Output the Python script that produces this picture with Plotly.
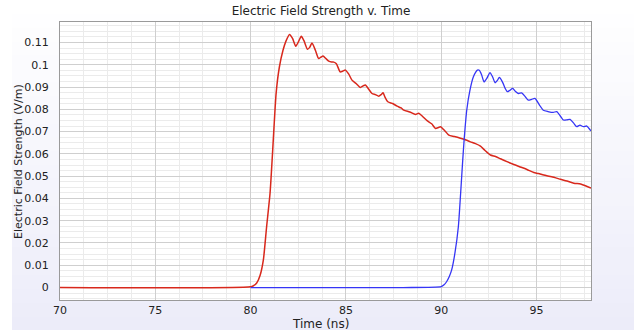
import plotly.graph_objects as go

# ---- data ----
red_time = [70, 80.0, 80.15, 80.32, 80.5, 80.67, 80.84, 81.02, 81.16, 81.34,
            81.51, 81.7, 81.85, 82.04, 82.2, 82.37, 82.52, 82.66, 82.8, 82.98,
            83.1, 83.22, 83.4, 83.57, 83.7, 83.8, 83.95, 84.1, 84.25, 84.36,
            84.5, 84.7, 84.85, 84.97, 85.15, 85.32, 85.55, 85.76, 85.9, 86.02,
            86.2, 86.37, 86.55, 86.72, 86.85, 86.95, 87.05, 87.2, 87.45, 87.69,
            87.9, 88.04, 88.35, 88.65, 88.82, 89.0, 89.26, 89.5, 89.7, 89.85,
            89.96, 90.2, 90.4, 90.7, 91.01, 91.3, 91.53, 91.8, 92.06, 92.3,
            92.58, 92.85, 93.11, 93.45, 93.81, 94.2, 94.5, 94.86, 95.1, 95.38,
            95.8, 96.26, 96.6, 96.96, 97.31, 97.6, 97.86]
red_value = [0, 0.0003, 0.0008, 0.002, 0.0055, 0.0124, 0.0273, 0.0423, 0.0617, 0.0873,
             0.099, 0.1065, 0.1105, 0.1136, 0.1118, 0.1083, 0.1105, 0.1128, 0.1108, 0.107,
             0.1078, 0.1098, 0.1065, 0.1028, 0.1035, 0.1039, 0.1028, 0.1016, 0.1012, 0.1012,
             0.1005, 0.0968, 0.0972, 0.0976, 0.0958, 0.0931, 0.0915, 0.0898, 0.0905, 0.0909,
             0.089, 0.0871, 0.0866, 0.0859, 0.0866, 0.0874, 0.0855, 0.0834, 0.0826, 0.0814,
             0.0806, 0.0796, 0.0788, 0.0777, 0.0782, 0.077, 0.0749, 0.0735, 0.0714, 0.0718,
             0.0722, 0.0703, 0.0684, 0.0678, 0.067, 0.0662, 0.0654, 0.0646, 0.0635, 0.0615,
             0.0595, 0.0588, 0.0578, 0.0565, 0.0552, 0.054, 0.053, 0.0516, 0.0512, 0.0505,
             0.0497, 0.0486, 0.0478, 0.0468, 0.0465, 0.0456, 0.0446]

blue_time = [80.0, 88.0, 90.0, 90.15, 90.29, 90.42, 90.55, 90.72, 90.9, 91.02,
             91.13, 91.21, 91.34, 91.51, 91.69, 91.9, 92.0, 92.12, 92.25, 92.4,
             92.56, 92.7, 92.83, 92.95, 93.05, 93.23, 93.35, 93.47, 93.6, 93.75,
             93.9, 94.05, 94.22, 94.4, 94.57, 94.75, 94.92, 95.15, 95.36, 95.6,
             95.88, 96.06, 96.25, 96.41, 96.6, 96.76, 96.95, 97.11, 97.28, 97.46,
             97.64, 97.82, 97.86]
blue_value = [0, 0, 0.0004, 0.0012, 0.0027, 0.0048, 0.0079, 0.0154, 0.0273, 0.0423,
              0.0572, 0.067, 0.0796, 0.0886, 0.0946, 0.0976, 0.0975, 0.0955, 0.0923, 0.094,
              0.0965, 0.0945, 0.0919, 0.093, 0.0943, 0.092, 0.0895, 0.0879, 0.0885, 0.0894,
              0.088, 0.0871, 0.0874, 0.0858, 0.0841, 0.0845, 0.0849, 0.082, 0.0796, 0.079,
              0.0786, 0.079, 0.077, 0.0752, 0.0753, 0.0755, 0.0738, 0.0722, 0.0729, 0.0722,
              0.0725, 0.0707, 0.0703]

x_ticks = [70, 75, 80, 85, 90, 95]
y_ticks = [0, 0.01, 0.02, 0.03, 0.04, 0.05, 0.06, 0.07, 0.08, 0.09, 0.1, 0.11]
y_tick_text = ["0", "0.01", "0.02", "0.03", "0.04", "0.05", "0.06", "0.07", "0.08", "0.09", "0.1", "0.11"]

FONT = "DejaVu Sans"
W, H = 634, 330
ML, MR, MT, MB = 60, 43, 22, 30

fig = go.Figure()
fig.add_trace(go.Scatter(x=red_time, y=red_value, mode="lines",
                         line=dict(color="#d8281c", width=1.5, shape="spline", smoothing=0.6),
                         showlegend=False, hoverinfo="skip"))
fig.add_trace(go.Scatter(x=blue_time, y=blue_value, mode="lines",
                         line=dict(color="#3535f5", width=1.3, shape="spline", smoothing=0.6),
                         showlegend=False, hoverinfo="skip"))

# background: soft vertical gradient from white (top) to lavender (bottom)
pw, ph = W - ML - MR, H - MT - MB
def px_to_paper_x(px):
    return (px - ML) / pw
def px_to_paper_y(py):
    return (H - MB - py) / ph

shapes = []
n_bands = 24
top_c, bot_c = (255, 255, 255), (236, 236, 249)
for i in range(n_bands):
    f = (i + 0.5) / n_bands
    c = tuple(round(top_c[k] + (bot_c[k] - top_c[k]) * f) for k in range(3))
    y0 = H * i / n_bands
    y1 = H * (i + 1) / n_bands + 1
    shapes.append(dict(type="rect", xref="paper", yref="paper", layer="below",
                       x0=px_to_paper_x(12), x1=px_to_paper_x(W + 2),
                       y0=px_to_paper_y(y1), y1=px_to_paper_y(y0),
                       fillcolor="rgb(%d,%d,%d)" % c, line=dict(width=0)))
# keep the plotting area itself plain white
shapes.append(dict(type="rect", xref="paper", yref="paper", layer="below",
                   x0=0, x1=1, y0=0, y1=1, fillcolor="#ffffff", line=dict(width=0)))

fig.update_layout(
    width=W, height=H,
    margin=dict(l=ML, r=MR, t=MT, b=MB, autoexpand=False),
    paper_bgcolor="#ffffff",
    plot_bgcolor="#ffffff",
    shapes=shapes,
    font=dict(family=FONT, size=11, color="#222222"),
    title=dict(text="Electric Field Strength v. Time", x=321 / W, xanchor="center",
               y=1 - 11 / H, yanchor="middle", yref="container", automargin=False,
               font=dict(family=FONT, size=12, color="#222222")),
    xaxis=dict(range=[70, 97.86], tickvals=x_ticks, ticktext=[str(v) for v in x_ticks],
               showgrid=True, gridcolor="#cfcfcf", gridwidth=1,
               minor=dict(tickvals=[70 + 1.25 * i for i in range(23)], showgrid=True,
                          gridcolor="#ebebeb", gridwidth=1),
               showline=True, linecolor="#9a9a9a", linewidth=1, mirror=True,
               zeroline=False, ticks="", ticklabelstandoff=0, automargin=False),
    yaxis=dict(range=[-0.0056, 0.1192], tickvals=y_ticks, ticktext=y_tick_text,
               showgrid=True, gridcolor="#cfcfcf", gridwidth=1,
               minor=dict(dtick=0.0025, tick0=0, showgrid=True, gridcolor="#ebebeb", gridwidth=1),
               showline=True, linecolor="#9a9a9a", linewidth=1, mirror=True,
               zeroline=False, ticks="", ticklabelstandoff=8, automargin=False),
    annotations=[
        dict(text="Time (ns)", xref="paper", yref="paper",
             x=px_to_paper_x(320), y=px_to_paper_y(323.5), xanchor="center", yanchor="middle",
             showarrow=False, font=dict(family=FONT, size=12, color="#222222")),
        dict(text="Electric Field Strength (V/m)", xref="paper", yref="paper",
             x=px_to_paper_x(18), y=px_to_paper_y(162), xanchor="center", yanchor="middle",
             textangle=-90, showarrow=False, font=dict(family=FONT, size=11, color="#222222")),
    ],
)

fig.write_html("out.html", config={"displayModeBar": False},
               post_script="document.body.style.margin='0px';document.body.style.background='#ffffff';")
